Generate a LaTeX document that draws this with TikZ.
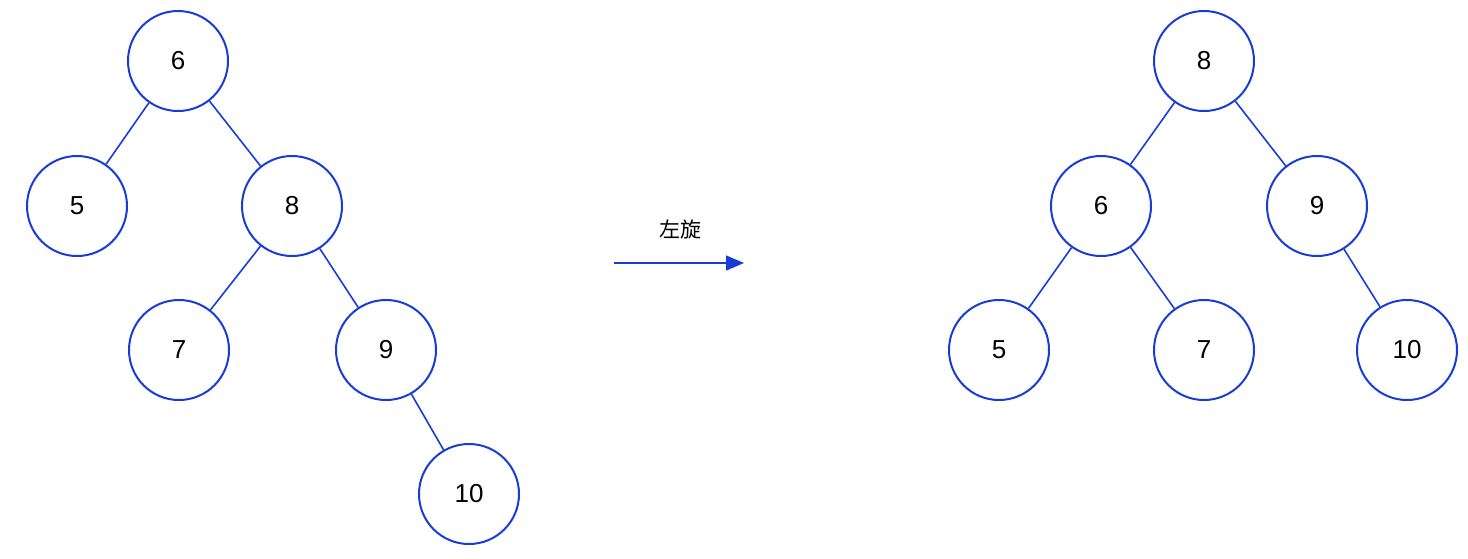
\documentclass[tikz,border=0pt]{standalone}
\usepackage{fontspec}
\setmainfont{Liberation Sans}
\newfontfamily\cjk{Noto Sans CJK SC}
\usetikzlibrary{arrows.meta}
\definecolor{treeblue}{RGB}{24,60,214}
\begin{document}
\begin{tikzpicture}[x=1pt,y=-1pt,
  tnode/.style={circle,draw=treeblue,line width=2pt,minimum size=100pt,inner sep=0pt,font=\fontsize{26}{26}\selectfont},
  tedge/.style={draw=treeblue,line width=1.6pt}]
\useasboundingbox (0,0) rectangle (1468,558);
% left tree
\node[tnode] (L6) at (178,61) {6};
\node[tnode] (L5) at (77,206) {5};
\node[tnode] (L8) at (292,206) {8};
\node[tnode] (L7) at (179,350) {7};
\node[tnode] (L9) at (386,350) {9};
\node[tnode] (L10) at (469,494) {10};
\draw[tedge] (L6) -- (L5);
\draw[tedge] (L6) -- (L8);
\draw[tedge] (L8) -- (L7);
\draw[tedge] (L8) -- (L9);
\draw[tedge] (L9) -- (L10);
% arrow
\coordinate (As) at (614,263);
\coordinate (Ae) at (744,263);
\draw[treeblue,line width=1.6pt,-{Triangle[length=18pt,width=15pt]}] (As) -- (Ae);
\node[font=\cjk\fontsize{21}{21}\selectfont] (lbl) at (680,230) {左旋};
% right tree
\node[tnode] (R8) at (1204,61) {8};
\node[tnode] (R6) at (1101,206) {6};
\node[tnode] (R9) at (1317,206) {9};
\node[tnode] (R5) at (999,350) {5};
\node[tnode] (R7) at (1204,350) {7};
\node[tnode] (R10) at (1407,350) {10};
\draw[tedge] (R8) -- (R6);
\draw[tedge] (R8) -- (R9);
\draw[tedge] (R6) -- (R5);
\draw[tedge] (R6) -- (R7);
\draw[tedge] (R9) -- (R10);
\end{tikzpicture}
\end{document}
